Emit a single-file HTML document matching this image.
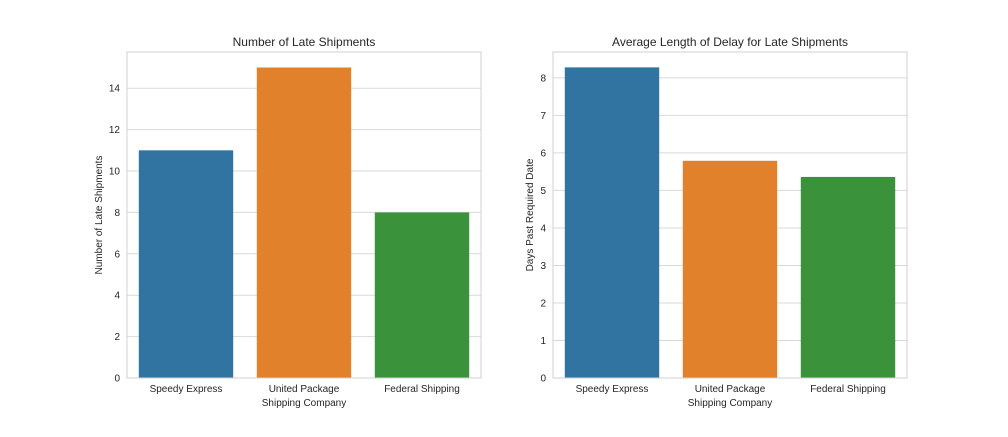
<!DOCTYPE html>
<html><head><meta charset="utf-8"><style>
body{margin:0;background:#fff;font-family:"Liberation Sans",sans-serif;}
svg text{font-family:"Liberation Sans",sans-serif;fill:#262626;}
</style></head><body>
<svg id="c" width="1008" height="432"></svg>
<script>
const categories=["Speedy Express","United Package","Federal Shipping"];
const lateCounts=[11,15,8];
const avgDelay=[8.28,5.79,5.36];
const leftTicks=[0,2,4,6,8,10,12,14];
const rightTicks=[0,1,2,3,4,5,6,7,8];
const colors=["#3274a1","#e1812c","#3a923a"];
const svg=document.getElementById('c');
const NS="http://www.w3.org/2000/svg";
function el(t,a,p){const e=document.createElementNS(NS,t);for(const k in a)e.setAttribute(k,a[k]);(p||svg).appendChild(e);return e;}
function panel(x0,x1,yMax,vals,ticks,title,ylabel,key,lblOff){
  const y0=52,y1=378;
  const g=el('g',{});
  
  
  const ys=v=>y1-(v/yMax)*(y1-y0);
  const bw=(x1-x0)/categories.length;
  ticks.forEach(t=>{
    const l=el('line',{x1:x0,x2:x1,y1:ys(t),y2:ys(t),stroke:'#d9d9d9','stroke-width':1},g);
    
    
    const tx=el('text',{x:x0-7,y:ys(t)+3.5,'font-size':10,'text-anchor':'end'},g);
    tx.textContent=t;
    
    
  });
  vals.forEach((v,i)=>{
    const r=el('rect',{x:x0+bw*i+bw*0.1,y:ys(v),width:bw*0.8,height:y1-ys(v),fill:colors[i]},g);
    
    
    const tx=el('text',{x:x0+bw*(i+0.5),y:y1+14,'font-size':10,'text-anchor':'middle'},g);
    tx.textContent=categories[i];
    
    
  });
  const fr=el('rect',{x:x0,y:y0,width:x1-x0,height:y1-y0,fill:'none',stroke:'#d0d0d0','stroke-width':1},g);
  
  
  const t=el('text',{x:(x0+x1)/2,y:y0-6,'font-size':12,'text-anchor':'middle'},g);
  t.textContent=title;
  
  
  const xl=el('text',{x:(x0+x1)/2,y:y1+28,'font-size':10,'text-anchor':'middle'},g);
  xl.textContent='Shipping Company';
  
  
  const cy=(y0+y1)/2;
  const lx=x0-lblOff;
  const yl=el('text',{x:lx,y:cy,'font-size':10,'text-anchor':'middle',transform:`rotate(-90 ${lx} ${cy})`},g);
  yl.textContent=ylabel;
  
  
}
panel(127,481,15.75,lateCounts,leftTicks,'Number of Late Shipments','Number of Late Shipments','left',25);
panel(553,907,8.69,avgDelay,rightTicks,'Average Length of Delay for Late Shipments','Days Past Required Date','right',20);
</script>
</body></html>
